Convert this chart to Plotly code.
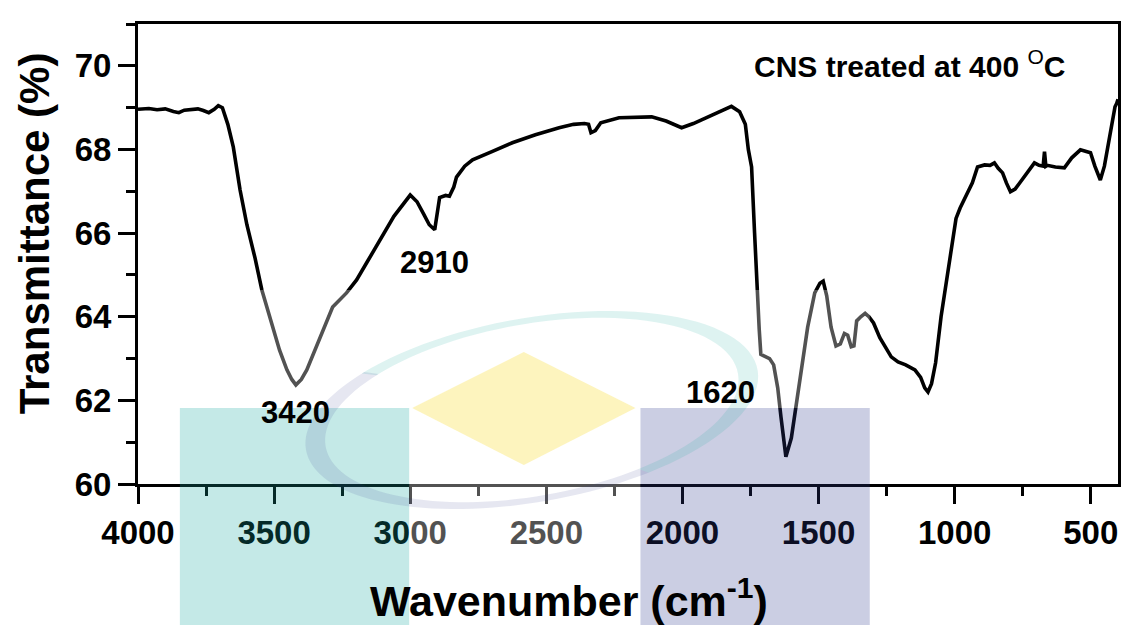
import math
import plotly.graph_objects as go

# FTIR spectrum of CNS treated at 400 °C
wavenumber = [
    4000, 3960, 3930, 3900, 3870, 3850, 3830, 3800, 3780, 3760, 3740, 3720,
    3705, 3690, 3670, 3650, 3625, 3600, 3570, 3545, 3504, 3480, 3453, 3435,
    3420, 3400, 3380, 3350, 3321, 3285, 3234, 3197, 3160, 3112, 3060, 3000,
    2975, 2950, 2930, 2910, 2900, 2892, 2870, 2856, 2840, 2830, 2800, 2771,
    2700, 2625, 2540, 2453, 2400, 2360, 2345, 2336, 2320, 2300, 2233, 2113,
    2060, 2003, 1960, 1900, 1850, 1820, 1790, 1769, 1758, 1746, 1735, 1725,
    1718, 1712, 1695, 1680, 1665, 1650, 1638, 1620, 1600, 1585, 1569, 1555,
    1540, 1514, 1495, 1483, 1470, 1454, 1436, 1420, 1405, 1393, 1380, 1370,
    1360, 1345, 1329, 1315, 1298, 1275, 1256, 1233, 1208, 1180, 1146, 1125,
    1110, 1098, 1085, 1070, 1050, 1036, 1014, 995, 980, 960, 935, 916, 890,
    870, 854, 840, 824, 810, 795, 778, 758, 735, 707, 690, 675, 670, 665, 660,
    630, 597, 570, 538, 520, 501, 485, 465, 450, 440, 430, 422, 411, 405, 400,
]
transmittance = [
    68.96, 68.98, 68.95, 68.97, 68.91, 68.88, 68.94, 68.96, 68.97, 68.93, 68.88, 68.96,
    69.05, 69.00, 68.60, 68.06, 67.03, 66.20, 65.40, 64.64, 63.76, 63.20, 62.73, 62.50,
    62.37, 62.50, 62.73, 63.20, 63.68, 64.23, 64.57, 64.88, 65.29, 65.84, 66.40, 66.91,
    66.75, 66.45, 66.20, 66.08, 66.50, 66.85, 66.90, 66.88, 67.10, 67.34, 67.60, 67.75,
    67.95, 68.16, 68.35, 68.52, 68.60, 68.62, 68.60, 68.40, 68.45, 68.64, 68.76, 68.78,
    68.68, 68.52, 68.62, 68.80, 68.95, 69.03, 68.90, 68.60, 68.00, 67.58, 66.00, 64.50,
    63.70, 63.10, 63.05, 63.00, 62.85, 62.30, 61.60, 60.65, 61.10, 61.77, 62.40, 63.00,
    63.75, 64.57, 64.80, 64.85, 64.50, 63.75, 63.30, 63.35, 63.60, 63.56, 63.28, 63.30,
    63.90, 64.00, 64.08, 64.00, 63.85, 63.50, 63.28, 63.04, 62.92, 62.85, 62.73, 62.55,
    62.30, 62.20, 62.40, 62.90, 64.00, 64.60, 65.67, 66.35, 66.60, 66.87, 67.20, 67.58, 67.63,
    67.62, 67.68, 67.55, 67.44, 67.20, 66.99, 67.05, 67.23, 67.45, 67.68, 67.62, 67.60, 67.95, 67.60, 67.62,
    67.58, 67.56, 67.80, 67.99, 67.95, 67.92, 67.60, 67.27, 67.60, 67.99, 68.30, 68.64, 69.02, 69.10, 69.20,
]

# Band assignments marked on the spectrum
peak_labels = ["3420", "2910", "1620"]
peak_wavenumber = [3420, 2910, 1620]
peak_label_y = [61.72, 65.29, 62.2]
peak_label_xshift = [0, 0, -65]

x_ticks = [4000, 3500, 3000, 2500, 2000, 1500, 1000, 500]
y_ticks = [60, 62, 64, 66, 68, 70]

FONT = "Liberation Sans, Arial, sans-serif"

# Page geometry (pixels) of the plotting area
W, H = 1127, 625
L, R, T, B = 138, 6, 24, 141
PW, PH = W - L - R, H - T - B


def px(x):
    return (x - L) / PW


def py(y):
    return (H - B - y) / PH


fig = go.Figure()
fig.add_trace(go.Scatter(
    x=wavenumber, y=transmittance, mode="lines",
    line=dict(color="black", width=3.6), showlegend=False, hoverinfo="x+y",
))

for txt, xv, yv, xs in zip(peak_labels, peak_wavenumber, peak_label_y, peak_label_xshift):
    fig.add_annotation(x=xv, y=yv, text=txt, showarrow=False, xshift=xs,
                       font=dict(family=FONT, size=31, color="black", weight="bold"))

fig.add_annotation(xref="paper", yref="paper", x=px(754), y=py(64),
                   xanchor="left", yanchor="middle", showarrow=False,
                   text="<b>CNS treated at 400 </b><sup>O</sup><b>C</b>",
                   font=dict(family=FONT, size=30, color="black"))

# Axis titles
fig.add_annotation(xref="paper", yref="paper", x=px(570), y=py(598),
                   xanchor="center", yanchor="middle", showarrow=False,
                   text="Wavenumber (cm<sup>-1</sup>)",
                   font=dict(family=FONT, size=43, color="black", weight="bold"))
fig.add_annotation(xref="paper", yref="paper", x=px(34), y=py(233),
                   xanchor="center", yanchor="middle", showarrow=False, textangle=-90,
                   text="Transmittance (%)",
                   font=dict(family=FONT, size=42, color="black", weight="bold"))

# Logo overlay: white haze, coloured blocks, diamond and ring
shapes = []


def rect(x0, y0, x1, y1, color):
    shapes.append(dict(type="rect", xref="paper", yref="paper", layer="above",
                       x0=px(x0), x1=px(x1), y0=py(y0), y1=py(y1),
                       fillcolor=color, line=dict(width=0)))


rect(180, 290, 872, 408, "rgba(255,255,255,0.32)")
rect(410, 408, 642, 625, "rgba(255,255,255,0.32)")
rect(180, 408, 410, 625, "rgba(19,168,158,0.25)")
rect(642, 408, 872, 625, "rgba(46,61,143,0.25)")

diamond = [(413, 408), (525, 352), (637, 408), (525, 465)]
shapes.append(dict(type="path", xref="paper", yref="paper", layer="above",
                   path="M " + " L ".join(f"{px(a):.5f},{py(b):.5f}" for a, b in diamond) + " Z",
                   fillcolor="rgba(250,220,40,0.3)", line=dict(width=0)))


def ring_path(t0, t1, cx=533, cy=410, a1=230, b1=92, a2=210, b2=86, rot=-10, n=60):
    th = math.radians(rot)
    c, s = math.cos(th), math.sin(th)
    outer, inner = [], []
    for i in range(n + 1):
        t = t0 + (t1 - t0) * i / n
        for a, b, lst in ((a1, b1, outer), (a2, b2, inner)):
            ex, ey = a * math.cos(t), b * math.sin(t)
            lst.append((cx + ex * c - ey * s, cy + ex * s + ey * c))
    pts = outer + inner[::-1]
    return "M " + " L ".join(f"{px(a):.5f},{py(b):.5f}" for a, b in pts) + " Z"


shapes.append(dict(type="path", xref="paper", yref="paper", layer="above",
                   path=ring_path(-2.35, 1.1), fillcolor="rgba(19,168,158,0.14)",
                   line=dict(width=0)))
shapes.append(dict(type="path", xref="paper", yref="paper", layer="above",
                   path=ring_path(1.1, 3.95), fillcolor="rgba(46,61,143,0.12)",
                   line=dict(width=0)))

axis_common = dict(
    showline=True, linecolor="black", linewidth=3, mirror=True,
    ticks="outside", ticklen=17, tickwidth=3, tickcolor="black",
    showgrid=False, zeroline=False,
    tickfont=dict(family=FONT, size=33, color="black", weight="bold"),
)

fig.update_layout(
    width=W, height=H,
    margin=dict(l=L, r=R, t=T, b=B, pad=0),
    paper_bgcolor="white", plot_bgcolor="white",
    shapes=shapes,
    xaxis=dict(
        range=[4000, 400], tickmode="array", tickvals=x_ticks,
        ticktext=[str(v) for v in x_ticks],
        minor=dict(ticks="outside", ticklen=9, tickwidth=3, tickcolor="black", dtick=250, tick0=0),
        **axis_common,
    ),
    yaxis=dict(
        range=[60, 71], tickmode="array", tickvals=y_ticks,
        ticktext=[str(v) for v in y_ticks],
        minor=dict(ticks="outside", ticklen=9, tickwidth=3, tickcolor="black", dtick=1, tick0=0),
        **axis_common,
    ),
)

fig.write_html("out.html")
